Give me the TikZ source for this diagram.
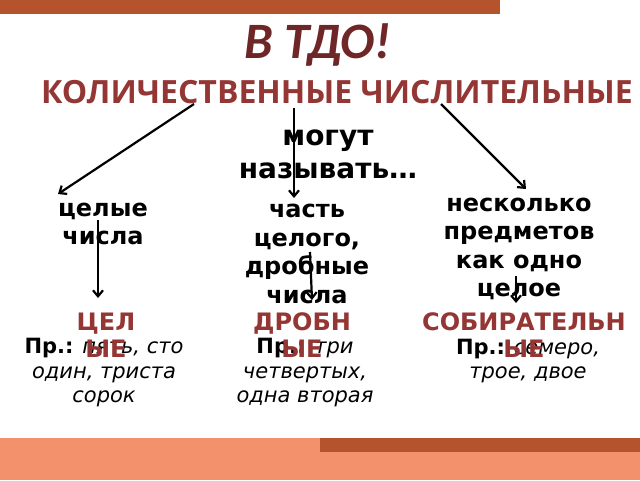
\documentclass[tikz,border=0pt]{standalone}
\usepackage{fontspec}
\setmainfont{DejaVu Sans}
\newfontfamily\headfont{Open Sans}
\newfontfamily\titlefont{Carlito}
\usetikzlibrary{arrows.meta}
\definecolor{rust}{HTML}{B5532C}
\definecolor{salmon}{HTML}{F2916C}
\definecolor{wine}{HTML}{6E2626}
\definecolor{brick}{HTML}{943634}

\begin{document}
\begin{tikzpicture}[x=1pt,y=-1pt,>={Straight Barb[length=6pt,width=10pt]}]
    \tikzstyle{word}=[align=center,inner sep=0pt,font=\bfseries\fontsize{24}{28.5}\selectfont]
    \tikzstyle{kind}=[align=center,inner sep=0pt,text=brick,font=\bfseries\fontsize{24}{27}\selectfont]
    \tikzstyle{example}=[align=center,inner sep=0pt,font=\itshape\fontsize{21}{24.5}\selectfont]
    \tikzstyle{link}=[->,line width=2.2pt]
    \useasboundingbox (0,0) rectangle (640,480);
    % bars
    \fill[rust] (0,0) rectangle (500,14);
    \fill[salmon] (0,438) rectangle (640,480);
    \fill[rust] (320,438) rectangle (640,452);
    % headings
    \node[text=wine,font=\titlefont\bfseries\itshape\fontsize{51}{56}\selectfont] (title) at (318,45) {В ТДО!};
    \node[text=brick,font=\headfont\bfseries\fontsize{32}{38}\selectfont] (quant) at (337,92) {КОЛИЧЕСТВЕННЫЕ ЧИСЛИТЕЛЬНЫЕ};
    \node[word,font=\bfseries\fontsize{28}{33}\selectfont] (can) at (328,154) {могут\\называть…};
    % meanings
    \node[word] (whole) at (103,224) {целые\\числа};
    \node[word] (part) at (307,254) {часть\\целого,\\дробные\\числа};
    \node[word] (group) at (519,249) {несколько\\предметов\\как одно\\целое};
    % examples
    \node[example] (exwhole) at (104,373) {{\upshape\bfseries Пр.:} пять, сто\\один, триста\\сорок};
    \node[example] (expart) at (305,373) {{\upshape\bfseries Пр.:} три\\четвертых,\\одна вторая};
    \node[example] (exgroup) at (528,361) {{\upshape\bfseries Пр.:} семеро,\\трое, двое};
    % kinds
    \node[kind] (kwhole) at (106,335) {ЦЕЛ\\ЫЕ};
    \node[kind] (kpart) at (302,335) {ДРОБН\\ЫЕ};
    \node[kind] (kgroup) at (524,335) {СОБИРАТЕЛЬН\\ЫЕ};
    % arrows
    \coordinate (q1) at (194,104);
    \coordinate (q2) at (294,108);
    \coordinate (q3) at (441,104);
    \coordinate (w1) at (58,194);
    \coordinate (w2) at (294,198);
    \coordinate (w3) at (526,189);
    \coordinate (s1) at (98,220);
    \coordinate (s2) at (310,252);
    \coordinate (s3) at (516,276);
    \coordinate (e1) at (98,298);
    \coordinate (e2) at (312,300);
    \coordinate (e3) at (516,303);
    \draw[link] (q1) -- (w1);
    \draw[link] (q2) -- (w2);
    \draw[link] (q3) -- (w3);
    \draw[link] (s1) -- (e1);
    \draw[link] (s2) -- (e2);
    \draw[link] (s3) -- (e3);
\end{tikzpicture}
\end{document}
